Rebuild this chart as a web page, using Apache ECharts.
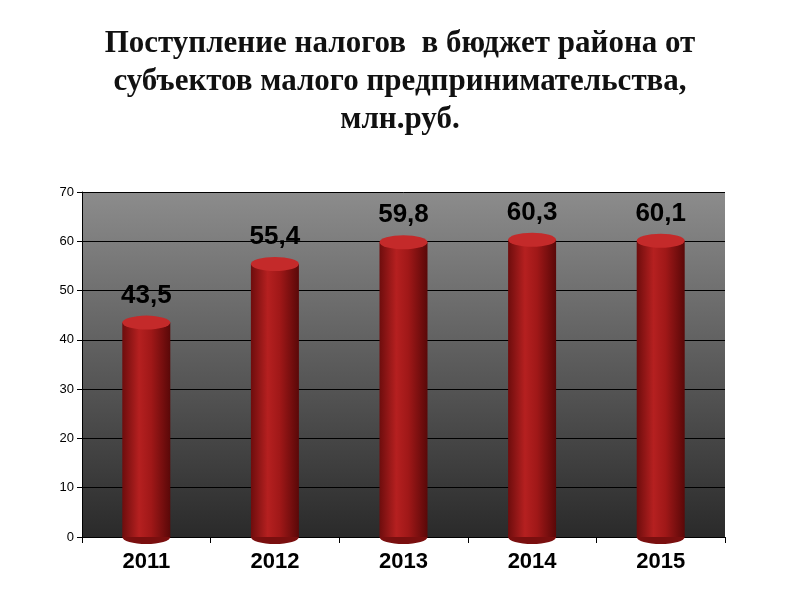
<!DOCTYPE html>
<html><head><meta charset="utf-8">
<script src="https://cdn.jsdelivr.net/npm/echarts@6/dist/echarts.min.js"></script>
<style>body{margin:0;background:#fff}#echarts{width:800px;height:600px}</style>
</head><body><div id="echarts"></div>
<script>
var years = ['2011', '2012', '2013', '2014', '2015']
var values = [43.5, 55.4, 59.8, 60.3, 60.1]
var yTicks = [0, 10, 20, 30, 40, 50, 60, 70]

var chart = echarts.init(document.getElementById('echarts'))

var barColor = new echarts.graphic.LinearGradient(0, 0, 1, 0, [
    {offset: 0, color: '#6e0d0d'},
    {offset: 0.35, color: '#b52020'},
    {offset: 0.6, color: '#a01818'},
    {offset: 1, color: '#5a0808'}
])

var option = {
    title: {
        text: 'Поступление налогов  в бюджет района от\nсубъектов малого предпринимательства,\nмлн.руб.',
        left: 'center',
        top: 20,
        textStyle: {fontFamily: 'Liberation Serif', fontSize: 31, fontWeight: 'bold', color: '#111', lineHeight: 38}
    },
    grid: {
        left: 82, right: 75, top: 192, bottom: 63,
        show: true,
        borderWidth: 0,
        backgroundColor: new echarts.graphic.LinearGradient(0, 0, 0, 1, [
            {offset: 0, color: '#8c8c8c'},
            {offset: 1, color: '#2a2a2a'}
        ])
    },
    xAxis: {
        type: 'category',
        data: years,
        axisTick: {show: true, length: 6, lineStyle: {color: '#000'}},
        axisLine: {lineStyle: {color: '#000'}},
        axisLabel: {fontFamily: 'Liberation Sans', fontSize: 22, fontWeight: 'bold', color: '#000', margin: 14}
    },
    yAxis: {
        type: 'value',
        min: 0, max: 70, interval: 10,
        axisLine: {show: true, lineStyle: {color: '#000'}},
        axisTick: {show: true, lineStyle: {color: '#000'}},
        axisLabel: {fontFamily: 'Liberation Sans', fontSize: 13, color: '#000'},
        splitLine: {lineStyle: {color: '#000', width: 1}}
    },
    series: [
        {
            type: 'bar',
            data: values,
            barWidth: 48,
            itemStyle: {color: barColor},
            label: {
                show: true, position: 'top', distance: 14,
                formatter: function (p) { return String(p.value).replace('.', ',') },
                fontFamily: 'Liberation Sans', fontSize: 26, fontWeight: 'bold', color: '#000'
            },
            z: 2
        },
        {
            type: 'pictorialBar',
            data: values,
            symbol: 'circle',
            symbolSize: [48, 14],
            symbolPosition: 'end',
            symbolOffset: [0, '-50%'],
            itemStyle: {color: '#c42a2a'},
            z: 3
        },
        {
            type: 'pictorialBar',
            data: values,
            symbol: 'circle',
            symbolSize: [48, 14],
            symbolPosition: 'start',
            symbolOffset: [0, '50%'],
            itemStyle: {color: '#7a0f0f'},
            z: 1
        }
    ]
}

chart.setOption(option)
</script></body></html>
